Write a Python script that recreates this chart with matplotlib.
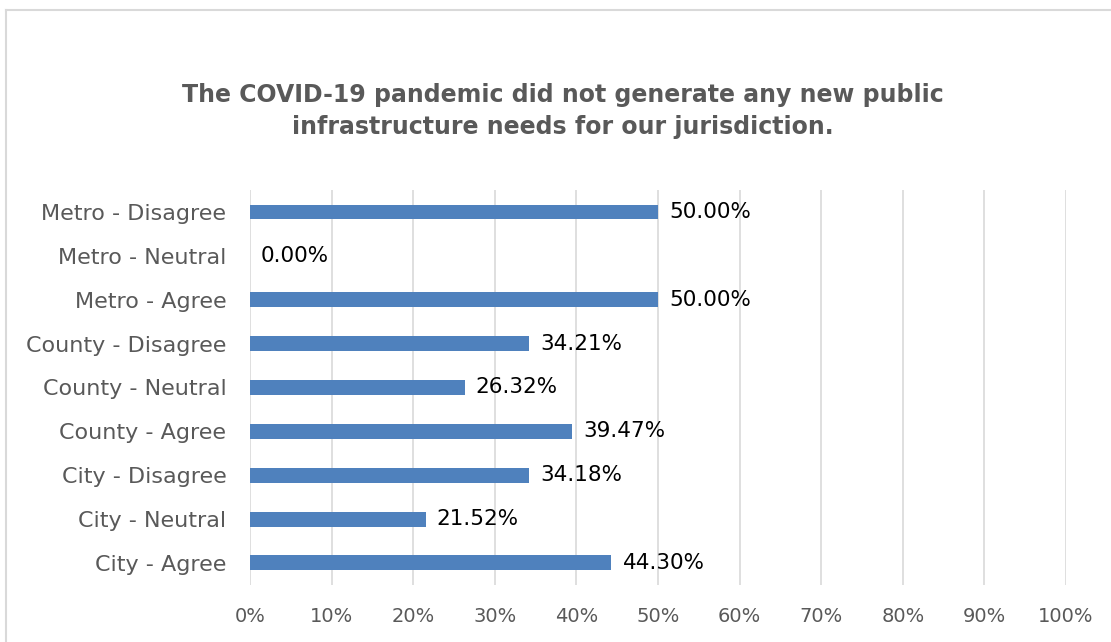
import matplotlib.pyplot as plt
from matplotlib.lines import Line2D
from matplotlib.ticker import FuncFormatter


CATEGORIES = [
	"City - Agree",
	"City - Neutral",
	"City - Disagree",
	"County - Agree",
	"County - Neutral",
	"County - Disagree",
	"Metro - Agree",
	"Metro - Neutral",
	"Metro - Disagree",
]
SHARES = [44.30, 21.52, 34.18, 39.47, 26.32, 34.21, 50.00, 0.00, 50.00]
X_TICKS = [0, 10, 20, 30, 40, 50, 60, 70, 80, 90, 100]
TITLE = "The COVID-19 pandemic did not generate any new public\ninfrastructure needs for our jurisdiction."

BAR_COLOR = "#4F81BD"
GRID_COLOR = "#D9D9D9"
TEXT_GRAY = "#595959"


def main():
	plt.rcParams["font.family"] = ["DejaVu Sans"]
	fig = plt.figure(figsize=(11.11, 6.42), dpi=100)
	ax = fig.add_axes([0.225, 0.089, 0.7345, 0.615])

	positions = list(range(len(CATEGORIES)))
	ax.barh(positions, SHARES, height=0.34, color=BAR_COLOR, zorder=3)

	for pos, value in zip(positions, SHARES):
		ax.annotate(
			f"{value:.2f}%",
			xy=(value, pos),
			xytext=(8, 0),
			textcoords="offset points",
			va="center",
			ha="left",
			fontsize=15.5,
			color="black",
		)

	ax.set_xlim(0, 100)
	ax.set_ylim(-0.5, len(CATEGORIES) - 0.5)
	ax.set_xticks(X_TICKS)
	ax.xaxis.set_major_formatter(FuncFormatter(lambda v, _: f"{v:.0f}%"))
	ax.set_yticks(positions)
	ax.set_yticklabels(CATEGORIES)
	ax.tick_params(axis="both", length=0, colors=TEXT_GRAY)
	ax.tick_params(axis="x", pad=16, labelsize=14)
	ax.tick_params(axis="y", pad=17, labelsize=16)
	ax.grid(True, axis="x", color=GRID_COLOR, linewidth=1.2, zorder=0)
	for spine in ax.spines.values():
		spine.set_visible(False)

	fig.text(
		0.507,
		0.827,
		TITLE,
		ha="center",
		va="center",
		fontsize=17,
		fontweight="bold",
		color=TEXT_GRAY,
		linespacing=1.38,
	)

	# frame of the chart area, only left and top edges are visible in the image
	fig.add_artist(Line2D([0.005, 0.005], [0.0, 0.985], color="#D9D9D9", linewidth=1.5, transform=fig.transFigure))
	fig.add_artist(Line2D([0.005, 1.0], [0.985, 0.985], color="#D9D9D9", linewidth=1.5, transform=fig.transFigure))

	fig.savefig("out.png", dpi=100)
	plt.close(fig)


if __name__ == "__main__":
	main()
